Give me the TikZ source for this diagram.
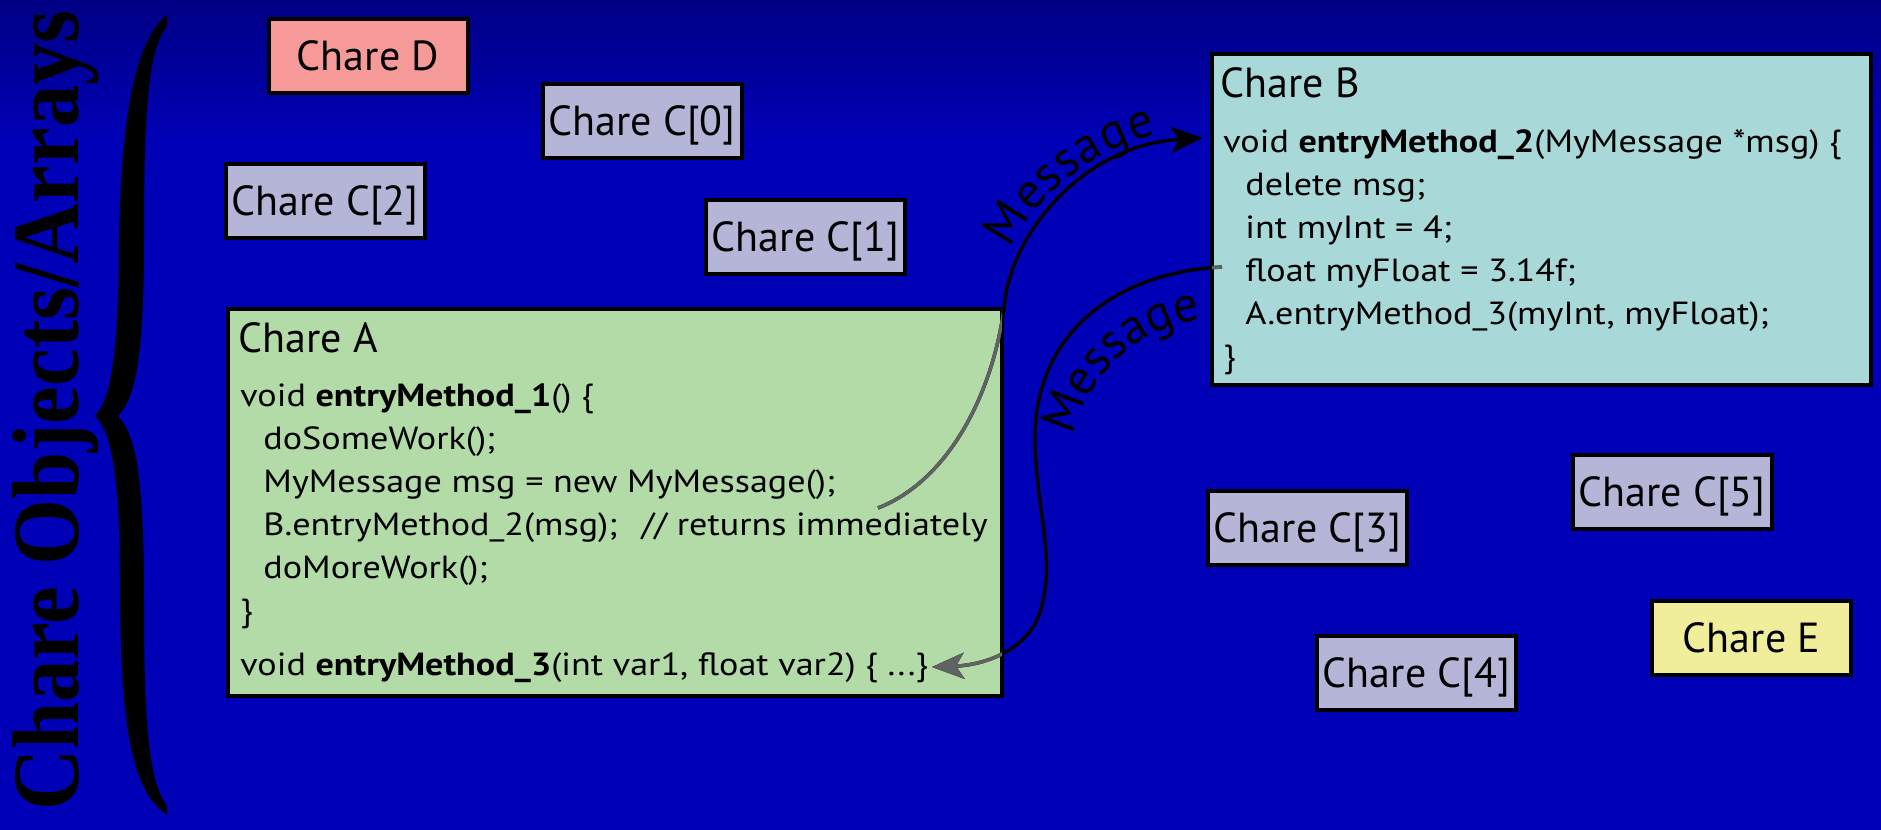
\documentclass[tikz,border=0pt]{standalone}
\usepackage{fontspec}
\setmainfont{PT Sans}
\newfontfamily\codefam[FakeStretch=1.13]{PT Sans}
\newfontfamily\headserif{Liberation Serif}
\usetikzlibrary{arrows.meta,decorations.text}

\definecolor{bgblue}{RGB}{0,0,182}
\definecolor{bgtop}{RGB}{0,0,132}
\definecolor{redbox}{RGB}{245,154,152}
\definecolor{lavbox}{RGB}{181,181,216}
\definecolor{greenbox}{RGB}{179,219,168}
\definecolor{cyanbox}{RGB}{168,216,216}
\definecolor{yelbox}{RGB}{240,238,154}
\definecolor{linkgray}{RGB}{95,100,98}

\newcommand\titlefont{\fontsize{21pt}{25pt}\selectfont}
\newcommand\labelfont{\fontsize{25pt}{30pt}\selectfont}
\newcommand\codefont{\codefam\fontsize{16pt}{19pt}\selectfont}

% the two message curves, in pixel units
\newcommand\firstlink{(m1s) .. controls (950,480) and (995,390) .. (1005,300) .. controls (1012,237) and (1080,145) .. (m1e)}
\newcommand\secondlink{(m2s) .. controls (1120,272) and (1032,330) .. (1035,445) .. controls (1038,520) and (1056,560) .. (1040,612) .. controls (1028,650) and (985,665) .. (m2e)}

\begin{document}
\begin{tikzpicture}[x=0.5pt,y=-0.5pt,
  chbox/.style={draw=black, line width=2pt, minimum width=99.5pt, minimum height=37pt,
    inner sep=0pt, text height=14.7pt, text depth=0pt, font=\titlefont},
  bigbox/.style={draw=black, line width=2pt, inner sep=0pt},
  codeline/.style={anchor=base west, inner sep=0pt, font=\codefont},
  headline/.style={anchor=base west, inner sep=0pt, font=\titlefont},
  msgline/.style={line width=1.7pt, -{Stealth[length=16pt,width=13pt,inset=4pt]}},
]
\useasboundingbox (0,0) rectangle (1881,830);

% background
\fill[bgblue] (0,0) rectangle (1881,830);
\shade[top color=bgtop, bottom color=bgblue] (0,0) rectangle (1881,140);

% side title and brace
\node[rotate=90, anchor=base, inner sep=0pt,
  font=\headserif\bfseries\fontsize{47.6pt}{50pt}\selectfont] (side) at (78,410.5)
  {\scalebox{0.89}[1]{Chare Objects/Arrays}};
\fill[black] (167,15) .. controls (135,40) and (120,120) .. (119,250)
  .. controls (118,360) and (110,400) .. (95,416)
  .. controls (112,432) and (120,480) .. (120,580)
  .. controls (120,720) and (130,790) .. (167,815)
  -- (167,806)
  .. controls (148,780) and (144,720) .. (144,600)
  .. controls (144,470) and (135,435) .. (118,416)
  .. controls (135,398) and (144,360) .. (144,240)
  .. controls (144,110) and (148,50) .. (167,26) -- cycle;

% small chares
\node[chbox, fill=redbox] (D)  at (368,55.5)    {Chare D};
\node[chbox, fill=lavbox] (C0) at (642,120.5)   {Chare C[0]};
\node[chbox, fill=lavbox] (C2) at (325,200.5)   {Chare C[2]};
\node[chbox, fill=lavbox] (C1) at (805.5,236.5) {Chare C[1]};
\node[chbox, fill=lavbox] (C3) at (1307.5,528)  {Chare C[3]};
\node[chbox, fill=lavbox] (C5) at (1672,491.5)  {Chare C[5]};
\node[chbox, fill=lavbox] (C4) at (1416.5,673)  {Chare C[4]};
\node[chbox, fill=yelbox] (E)  at (1751.5,637.5) {Chare E};

% chare A with its code
\node[bigbox, fill=greenbox, minimum width=387pt, minimum height=193.5pt] (A) at (615,502.5) {};
\node[headline] (Atitle) at (238,352) {Chare A};
\node[codeline] (a1) at (240,406) {void \textbf{entryMethod\_1}() \{};
\node[codeline] (a2) at (263,449) {doSomeWork();};
\node[codeline] (a3) at (263,492) {MyMessage msg = new MyMessage();};
\node[codeline] (a4) at (263,535) {B.entryMethod\_2(msg);\hspace{12pt}// returns immediately};
\node[codeline] (a5) at (263,578) {doMoreWork();};
\node[codeline] (a6) at (240,621) {\}};
\node[codeline] (a7) at (240,675) {void \textbf{entryMethod\_3}(int var1, float var2) \{ ...\}};

% chare B with its code
\node[bigbox, fill=cyanbox, minimum width=329.5pt, minimum height=165.5pt] (B) at (1541.5,219.5) {};
\node[headline] (Btitle) at (1220,97) {Chare B};
\node[codeline] (b1) at (1223,152) {void \textbf{entryMethod\_2}(MyMessage *msg) \{};
\node[codeline] (b2) at (1245,195) {delete msg;};
\node[codeline] (b3) at (1245,238) {int myInt = 4;};
\node[codeline] (b4) at (1245,281) {float myFloat = 3.14f;};
\node[codeline] (b5) at (1245,324) {A.entryMethod\_3(myInt, myFloat);};
\node[codeline] (b6) at (1223,367) {\}};

% message connectors
\coordinate (m1s) at (878,508);
\coordinate (m1e) at (1203,138);
\coordinate (m2s) at (1222,267);
\coordinate (m2e) at (932,667);

\draw[msgline] \firstlink;
\draw[msgline] \secondlink;
\begin{scope}
  \clip ([shift={(1pt,-1pt)}]A.north west) rectangle ([shift={(-1pt,1pt)}]A.south east)
        ([shift={(1pt,-1pt)}]B.north west) rectangle ([shift={(-1pt,1pt)}]B.south east);
  \draw[msgline, linkgray] \firstlink;
  \draw[msgline, linkgray] \secondlink;
\end{scope}

% labels along the connectors
\path[decorate, decoration={text along path, text={|\labelfont|Message},
    text align={left indent=24pt}, raise=5pt}]
  (1005,300) .. controls (1012,237) and (1080,145) .. (1203,138);
\path[decorate, decoration={text along path, text={|\labelfont|Message},
    text align={left indent=17pt}}]
  (1070,470) .. controls (1070,386) and (1138,318) .. (1222,318);
\end{tikzpicture}
\end{document}
